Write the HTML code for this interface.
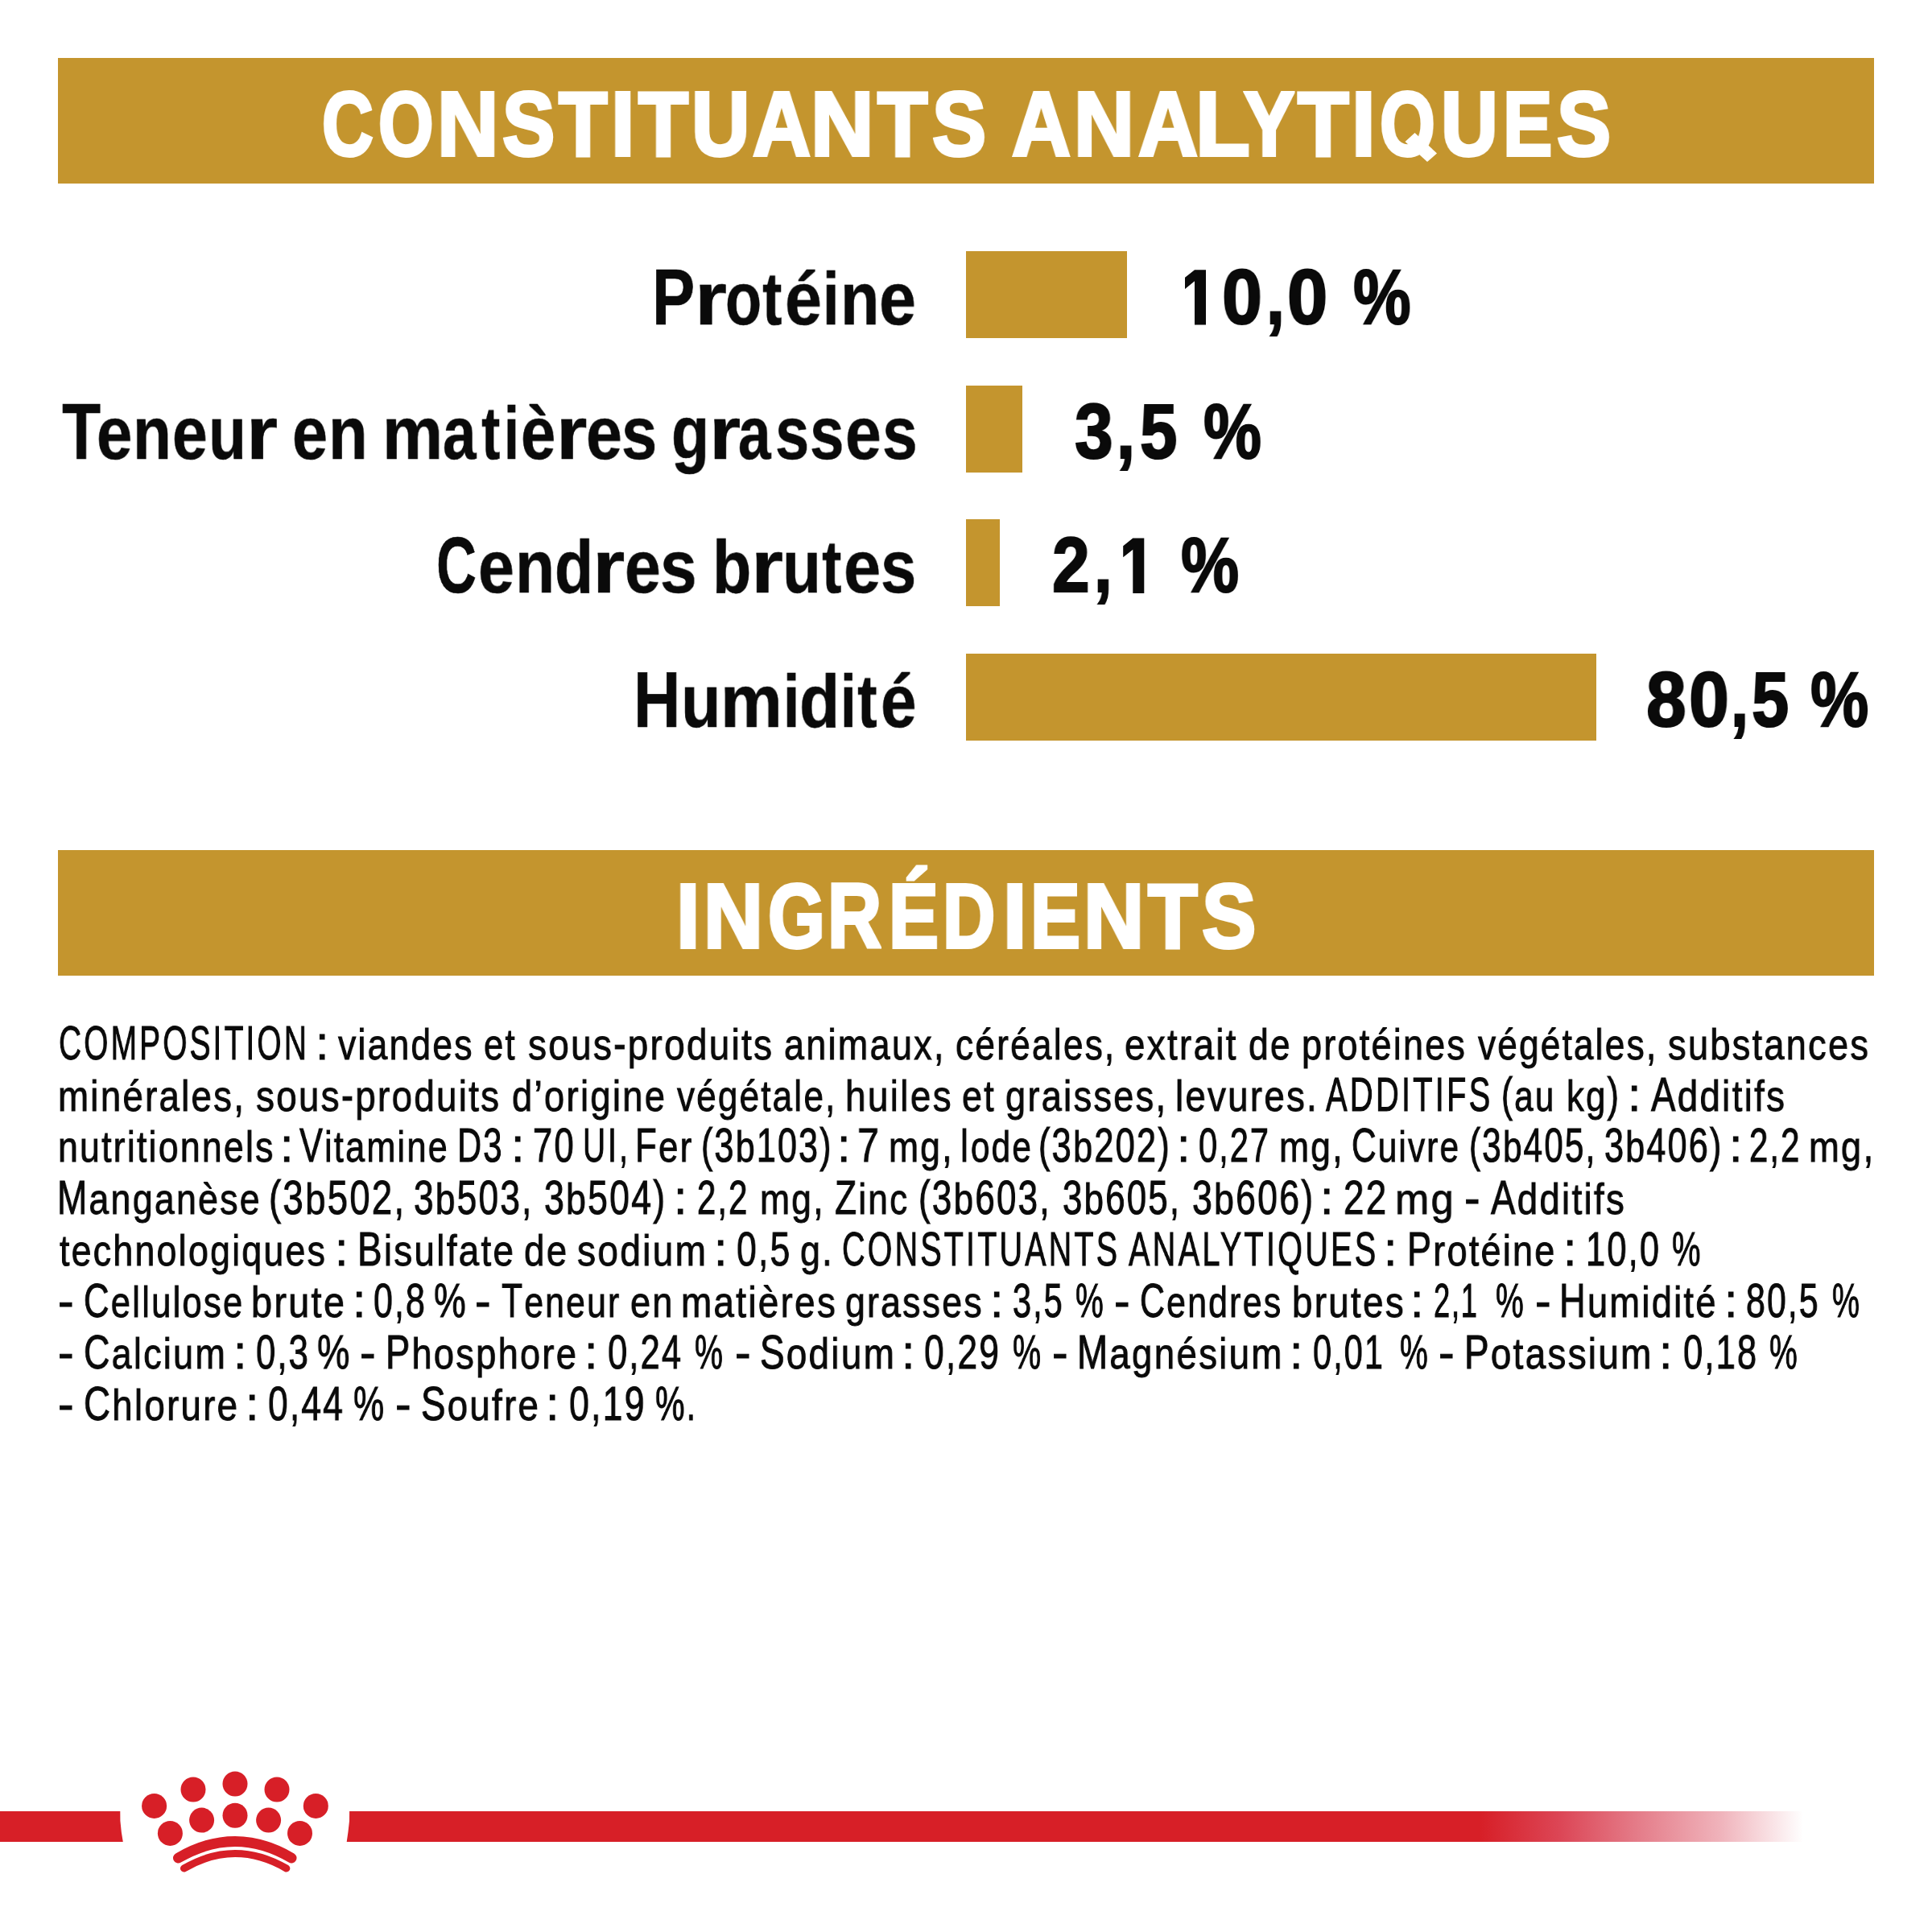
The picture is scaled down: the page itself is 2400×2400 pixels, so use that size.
<!DOCTYPE html>
<html><head><meta charset="utf-8">
<style>
html,body{margin:0;padding:0;background:#fff;}
body{width:2400px;height:2400px;position:relative;overflow:hidden;font-family:"Liberation Sans",sans-serif;}
.r{position:absolute;background:#C4952E;}
.t{position:absolute;white-space:nowrap;transform-origin:0 0;will-change:transform;font-family:"Liberation Sans",sans-serif;}
.x{display:inline-block;transform:scaleY(0.912);transform-origin:0 49.96px}
</style></head><body>
<div class="r" style="left:72px;top:72px;width:2256px;height:156px"></div>
<div class="r" style="left:72px;top:1056px;width:2256px;height:156px"></div>
<div class="r" style="left:1200px;top:312px;width:200px;height:108px"></div>
<div class="r" style="left:1200px;top:479px;width:70px;height:108px"></div>
<div class="r" style="left:1200px;top:645px;width:42px;height:108px"></div>
<div class="r" style="left:1200px;top:812px;width:783px;height:108px"></div>
<svg style="position:absolute;left:0;top:0" width="2400" height="2400" viewBox="0 0 2400 2400">
<defs>
<linearGradient id="fade" x1="431" y1="0" x2="2240" y2="0" gradientUnits="userSpaceOnUse">
<stop offset="0" stop-color="#D71F27"/>
<stop offset="0.778" stop-color="#D71F27"/>
<stop offset="0.833" stop-color="#DC4656"/>
<stop offset="0.884" stop-color="#E47A87"/>
<stop offset="0.944" stop-color="#F0B4BC"/>
<stop offset="1" stop-color="#FFFFFF"/>
</linearGradient>
</defs>
<path d="M0 2250 L149.3 2250 L149.4 2262 Q150.5 2276 152.8 2288 L0 2288 Z" fill="#D71F27"/>
<path d="M434.1 2250 L2240 2250 L2240 2288 L430.7 2288 Q432.6 2276 434 2262 Z" fill="url(#fade)"/>
<g fill="#D71F27">
<circle cx="292" cy="2216" r="15.5"/>
<circle cx="240" cy="2223" r="15.5"/>
<circle cx="344" cy="2223" r="15.5"/>
<circle cx="191.6" cy="2243.4" r="15.5"/>
<circle cx="392.3" cy="2243.4" r="15.5"/>
<circle cx="292" cy="2255.3" r="15.5"/>
<circle cx="250.6" cy="2261.1" r="15.5"/>
<circle cx="333.6" cy="2261.1" r="15.5"/>
<circle cx="211.4" cy="2277.4" r="15.5"/>
<circle cx="372.5" cy="2277.4" r="15.5"/>
</g>
<g fill="none" stroke="#D71F27" stroke-linecap="round">
<path d="M221.5 2308 Q292 2267 362 2308" stroke-width="13"/>
<path d="M228.5 2321 Q292 2284 355.8 2321" stroke-width="9"/>
</g>
<polygon fill="#FFFFFF" points="1745.5,176 1757.5,165 1785,190.5 1773,201"/>
<polygon fill="#0A0A0A" points="1498.0,335.2 1498.0,403.6 1484.0,403.6 1484.0,349.3 1472.0,358.9 1472.0,344.8 1484.0,335.2"/>
<polygon fill="#0A0A0A" points="1421.3,668.6 1421.3,737.0 1407.3,737.0 1407.3,682.7 1395.2,692.3 1395.2,678.2 1407.3,668.6"/>
</svg>
<div class="t" style="left:400.1px;top:97.3px;font-size:113.4px;line-height:113.4px;font-weight:700;color:#FFFFFF;-webkit-text-stroke:4px #FFFFFF;transform:scale(0.7769,1.0000)">C</div>
<div class="t" style="left:470.0px;top:97.3px;font-size:113.4px;line-height:113.4px;font-weight:700;color:#FFFFFF;-webkit-text-stroke:4px #FFFFFF;transform:scale(0.7768,1.0000)">O</div>
<div class="t" style="left:542.8px;top:97.3px;font-size:113.4px;line-height:113.4px;font-weight:700;color:#FFFFFF;-webkit-text-stroke:4px #FFFFFF;transform:scale(0.9314,1.0000)">N</div>
<div class="t" style="left:623.6px;top:97.3px;font-size:113.4px;line-height:113.4px;font-weight:700;color:#FFFFFF;-webkit-text-stroke:4px #FFFFFF;transform:scale(0.8625,1.0000)">S</div>
<div class="t" style="left:693.7px;top:97.3px;font-size:113.4px;line-height:113.4px;font-weight:700;color:#FFFFFF;-webkit-text-stroke:4px #FFFFFF;transform:scale(0.8746,1.0000)">T</div>
<div class="t" style="left:758.6px;top:97.3px;font-size:113.4px;line-height:113.4px;font-weight:700;color:#FFFFFF;-webkit-text-stroke:4px #FFFFFF;transform:scale(0.9350,1.0000)">I</div>
<div class="t" style="left:793.1px;top:97.3px;font-size:113.4px;line-height:113.4px;font-weight:700;color:#FFFFFF;-webkit-text-stroke:4px #FFFFFF;transform:scale(0.8958,1.0000)">T</div>
<div class="t" style="left:859.2px;top:97.3px;font-size:113.4px;line-height:113.4px;font-weight:700;color:#FFFFFF;-webkit-text-stroke:4px #FFFFFF;transform:scale(0.8847,1.0000)">U</div>
<div class="t" style="left:935.0px;top:97.3px;font-size:113.4px;line-height:113.4px;font-weight:700;color:#FFFFFF;-webkit-text-stroke:4px #FFFFFF;transform:scale(0.8780,1.0000)">A</div>
<div class="t" style="left:1007.3px;top:97.3px;font-size:113.4px;line-height:113.4px;font-weight:700;color:#FFFFFF;-webkit-text-stroke:4px #FFFFFF;transform:scale(0.9571,1.0000)">N</div>
<div class="t" style="left:1089.9px;top:97.3px;font-size:113.4px;line-height:113.4px;font-weight:700;color:#FFFFFF;-webkit-text-stroke:4px #FFFFFF;transform:scale(0.9014,1.0000)">T</div>
<div class="t" style="left:1158.1px;top:97.3px;font-size:113.4px;line-height:113.4px;font-weight:700;color:#FFFFFF;-webkit-text-stroke:4px #FFFFFF;transform:scale(0.8861,1.0000)">S</div>
<div class="t" style="left:1257.0px;top:97.3px;font-size:113.4px;line-height:113.4px;font-weight:700;color:#FFFFFF;-webkit-text-stroke:4px #FFFFFF;transform:scale(0.8902,1.0000)">A</div>
<div class="t" style="left:1333.5px;top:97.3px;font-size:113.4px;line-height:113.4px;font-weight:700;color:#FFFFFF;-webkit-text-stroke:4px #FFFFFF;transform:scale(0.9143,1.0000)">N</div>
<div class="t" style="left:1414.0px;top:97.3px;font-size:113.4px;line-height:113.4px;font-weight:700;color:#FFFFFF;-webkit-text-stroke:4px #FFFFFF;transform:scale(0.9024,1.0000)">A</div>
<div class="t" style="left:1485.1px;top:97.3px;font-size:113.4px;line-height:113.4px;font-weight:700;color:#FFFFFF;-webkit-text-stroke:4px #FFFFFF;transform:scale(0.9774,1.0000)">L</div>
<div class="t" style="left:1544.6px;top:97.3px;font-size:113.4px;line-height:113.4px;font-weight:700;color:#FFFFFF;-webkit-text-stroke:4px #FFFFFF;transform:scale(0.8359,1.0000)">Y</div>
<div class="t" style="left:1611.5px;top:97.3px;font-size:113.4px;line-height:113.4px;font-weight:700;color:#FFFFFF;-webkit-text-stroke:4px #FFFFFF;transform:scale(0.9183,1.0000)">T</div>
<div class="t" style="left:1679.4px;top:97.3px;font-size:113.4px;line-height:113.4px;font-weight:700;color:#FFFFFF;-webkit-text-stroke:4px #FFFFFF;transform:scale(0.9400,1.0000)">I</div>
<div class="t" style="left:1713.7px;top:97.3px;font-size:113.4px;line-height:113.4px;font-weight:700;color:#FFFFFF;-webkit-text-stroke:4px #FFFFFF;transform:scale(0.7805,1.0000)">O</div>
<div class="t" style="left:1789.5px;top:97.3px;font-size:113.4px;line-height:113.4px;font-weight:700;color:#FFFFFF;-webkit-text-stroke:4px #FFFFFF;transform:scale(0.8639,1.0000)">U</div>
<div class="t" style="left:1866.6px;top:97.3px;font-size:113.4px;line-height:113.4px;font-weight:700;color:#FFFFFF;-webkit-text-stroke:4px #FFFFFF;transform:scale(0.8104,1.0000)">E</div>
<div class="t" style="left:1934.1px;top:97.3px;font-size:113.4px;line-height:113.4px;font-weight:700;color:#FFFFFF;-webkit-text-stroke:4px #FFFFFF;transform:scale(0.8861,1.0000)">S</div>
<div class="t" style="left:839.9px;top:1081.3px;font-size:113.4px;line-height:113.4px;font-weight:700;color:#FFFFFF;-webkit-text-stroke:4px #FFFFFF;transform:scale(0.9350,1.0000)">I</div>
<div class="t" style="left:874.3px;top:1081.3px;font-size:113.4px;line-height:113.4px;font-weight:700;color:#FFFFFF;-webkit-text-stroke:4px #FFFFFF;transform:scale(0.9014,1.0000)">N</div>
<div class="t" style="left:953.9px;top:1081.3px;font-size:113.4px;line-height:113.4px;font-weight:700;color:#FFFFFF;-webkit-text-stroke:4px #FFFFFF;transform:scale(0.8025,1.0000)">G</div>
<div class="t" style="left:1028.1px;top:1081.3px;font-size:113.4px;line-height:113.4px;font-weight:700;color:#FFFFFF;-webkit-text-stroke:4px #FFFFFF;transform:scale(0.8182,1.0000)">R</div>
<div class="t" style="left:1103.6px;top:1081.3px;font-size:113.4px;line-height:113.4px;font-weight:700;color:#FFFFFF;-webkit-text-stroke:4px #FFFFFF;transform:scale(0.8179,1.0000)">É</div>
<div class="t" style="left:1170.9px;top:1081.3px;font-size:113.4px;line-height:113.4px;font-weight:700;color:#FFFFFF;-webkit-text-stroke:4px #FFFFFF;transform:scale(0.7961,1.0000)">D</div>
<div class="t" style="left:1245.8px;top:1081.3px;font-size:113.4px;line-height:113.4px;font-weight:700;color:#FFFFFF;-webkit-text-stroke:4px #FFFFFF;transform:scale(0.9300,1.0000)">I</div>
<div class="t" style="left:1279.7px;top:1081.3px;font-size:113.4px;line-height:113.4px;font-weight:700;color:#FFFFFF;-webkit-text-stroke:4px #FFFFFF;transform:scale(0.8179,1.0000)">E</div>
<div class="t" style="left:1346.3px;top:1081.3px;font-size:113.4px;line-height:113.4px;font-weight:700;color:#FFFFFF;-webkit-text-stroke:4px #FFFFFF;transform:scale(0.9171,1.0000)">N</div>
<div class="t" style="left:1426.2px;top:1081.3px;font-size:113.4px;line-height:113.4px;font-weight:700;color:#FFFFFF;-webkit-text-stroke:4px #FFFFFF;transform:scale(0.8901,1.0000)">T</div>
<div class="t" style="left:1492.8px;top:1081.3px;font-size:113.4px;line-height:113.4px;font-weight:700;color:#FFFFFF;-webkit-text-stroke:4px #FFFFFF;transform:scale(0.8903,1.0000)">S</div>
<div class="t" style="left:810.4px;top:319.9px;font-size:98.5px;line-height:98.5px;font-weight:700;color:#0A0A0A;-webkit-text-stroke:0.6px #0A0A0A;transform:scale(0.8105,1.0000)">P</div>
<div class="t" style="left:863.1px;top:319.9px;font-size:98.5px;line-height:98.5px;font-weight:700;color:#0A0A0A;-webkit-text-stroke:0.6px #0A0A0A;transform:scale(1.0387,0.9460);transform-origin:0 83.40px">r</div>
<div class="t" style="left:900.8px;top:319.9px;font-size:98.5px;line-height:98.5px;font-weight:700;color:#0A0A0A;-webkit-text-stroke:0.6px #0A0A0A;transform:scale(0.7500,0.9460);transform-origin:0 83.40px">o</div>
<div class="t" style="left:947.3px;top:319.9px;font-size:98.5px;line-height:98.5px;font-weight:700;color:#0A0A0A;-webkit-text-stroke:0.6px #0A0A0A;transform:scale(0.7419,0.9460);transform-origin:0 83.40px">t</div>
<div class="t" style="left:974.5px;top:319.9px;font-size:98.5px;line-height:98.5px;font-weight:700;color:#0A0A0A;-webkit-text-stroke:0.6px #0A0A0A;transform:scale(0.8367,0.9460);transform-origin:0 83.40px">é</div>
<div class="t" style="left:1021.9px;top:319.9px;font-size:98.5px;line-height:98.5px;font-weight:700;color:#0A0A0A;-webkit-text-stroke:0.6px #0A0A0A;transform:scale(0.7467,0.9460);transform-origin:0 83.40px">i</div>
<div class="t" style="left:1043.6px;top:319.9px;font-size:98.5px;line-height:98.5px;font-weight:700;color:#0A0A0A;-webkit-text-stroke:0.6px #0A0A0A;transform:scale(0.8042,0.9460);transform-origin:0 83.40px">n</div>
<div class="t" style="left:1091.9px;top:319.9px;font-size:98.5px;line-height:98.5px;font-weight:700;color:#0A0A0A;-webkit-text-stroke:0.6px #0A0A0A;transform:scale(0.8367,0.9460);transform-origin:0 83.40px">e</div>
<div class="t" style="left:77.2px;top:486.7px;font-size:98.5px;line-height:98.5px;font-weight:700;color:#0A0A0A;-webkit-text-stroke:0.6px #0A0A0A;transform:scale(0.8000,1.0000)">T</div>
<div class="t" style="left:120.0px;top:486.7px;font-size:98.5px;line-height:98.5px;font-weight:700;color:#0A0A0A;-webkit-text-stroke:0.6px #0A0A0A;transform:scale(0.8102,0.9460);transform-origin:0 83.40px">e</div>
<div class="t" style="left:165.2px;top:486.7px;font-size:98.5px;line-height:98.5px;font-weight:700;color:#0A0A0A;-webkit-text-stroke:0.6px #0A0A0A;transform:scale(0.7937,0.9460);transform-origin:0 83.40px">n</div>
<div class="t" style="left:214.1px;top:486.7px;font-size:98.5px;line-height:98.5px;font-weight:700;color:#0A0A0A;-webkit-text-stroke:0.6px #0A0A0A;transform:scale(0.7980,0.9460);transform-origin:0 83.40px">e</div>
<div class="t" style="left:259.3px;top:486.7px;font-size:98.5px;line-height:98.5px;font-weight:700;color:#0A0A0A;-webkit-text-stroke:0.6px #0A0A0A;transform:scale(0.7771,0.9460);transform-origin:0 83.40px">u</div>
<div class="t" style="left:306.4px;top:486.7px;font-size:98.5px;line-height:98.5px;font-weight:700;color:#0A0A0A;-webkit-text-stroke:0.6px #0A0A0A;transform:scale(1.0161,0.9460);transform-origin:0 83.40px">r</div>
<div class="t" style="left:363.0px;top:486.7px;font-size:98.5px;line-height:98.5px;font-weight:700;color:#0A0A0A;-webkit-text-stroke:0.6px #0A0A0A;transform:scale(0.8020,0.9460);transform-origin:0 83.40px">e</div>
<div class="t" style="left:407.6px;top:486.7px;font-size:98.5px;line-height:98.5px;font-weight:700;color:#0A0A0A;-webkit-text-stroke:0.6px #0A0A0A;transform:scale(0.8083,0.9460);transform-origin:0 83.40px">n</div>
<div class="t" style="left:475.4px;top:486.7px;font-size:98.5px;line-height:98.5px;font-weight:700;color:#0A0A0A;-webkit-text-stroke:0.6px #0A0A0A;transform:scale(0.8579,0.9460);transform-origin:0 83.40px">m</div>
<div class="t" style="left:549.9px;top:486.7px;font-size:98.5px;line-height:98.5px;font-weight:700;color:#0A0A0A;-webkit-text-stroke:0.6px #0A0A0A;transform:scale(0.7566,0.9460);transform-origin:0 83.40px">a</div>
<div class="t" style="left:598.1px;top:486.7px;font-size:98.5px;line-height:98.5px;font-weight:700;color:#0A0A0A;-webkit-text-stroke:0.6px #0A0A0A;transform:scale(0.7097,0.9460);transform-origin:0 83.40px">t</div>
<div class="t" style="left:625.8px;top:486.7px;font-size:98.5px;line-height:98.5px;font-weight:700;color:#0A0A0A;-webkit-text-stroke:0.6px #0A0A0A;transform:scale(0.6867,0.9460);transform-origin:0 83.40px">i</div>
<div class="t" style="left:646.9px;top:486.7px;font-size:98.5px;line-height:98.5px;font-weight:700;color:#0A0A0A;-webkit-text-stroke:0.6px #0A0A0A;transform:scale(0.7898,0.9460);transform-origin:0 83.40px">è</div>
<div class="t" style="left:691.1px;top:486.7px;font-size:98.5px;line-height:98.5px;font-weight:700;color:#0A0A0A;-webkit-text-stroke:0.6px #0A0A0A;transform:scale(1.0032,0.9460);transform-origin:0 83.40px">r</div>
<div class="t" style="left:728.3px;top:486.7px;font-size:98.5px;line-height:98.5px;font-weight:700;color:#0A0A0A;-webkit-text-stroke:0.6px #0A0A0A;transform:scale(0.8184,0.9460);transform-origin:0 83.40px">e</div>
<div class="t" style="left:772.4px;top:486.7px;font-size:98.5px;line-height:98.5px;font-weight:700;color:#0A0A0A;-webkit-text-stroke:0.6px #0A0A0A;transform:scale(0.8083,0.9460);transform-origin:0 83.40px">s</div>
<div class="t" style="left:834.2px;top:486.7px;font-size:98.5px;line-height:98.5px;font-weight:700;color:#0A0A0A;-webkit-text-stroke:0.6px #0A0A0A;transform:scale(0.7820,0.9460);transform-origin:0 83.40px">g</div>
<div class="t" style="left:880.5px;top:486.7px;font-size:98.5px;line-height:98.5px;font-weight:700;color:#0A0A0A;-webkit-text-stroke:0.6px #0A0A0A;transform:scale(1.0226,0.9460);transform-origin:0 83.40px">r</div>
<div class="t" style="left:917.0px;top:486.7px;font-size:98.5px;line-height:98.5px;font-weight:700;color:#0A0A0A;-webkit-text-stroke:0.6px #0A0A0A;transform:scale(0.7396,0.9460);transform-origin:0 83.40px">a</div>
<div class="t" style="left:962.7px;top:486.7px;font-size:98.5px;line-height:98.5px;font-weight:700;color:#0A0A0A;-webkit-text-stroke:0.6px #0A0A0A;transform:scale(0.7708,0.9460);transform-origin:0 83.40px">s</div>
<div class="t" style="left:1005.5px;top:486.7px;font-size:98.5px;line-height:98.5px;font-weight:700;color:#0A0A0A;-webkit-text-stroke:0.6px #0A0A0A;transform:scale(0.7750,0.9460);transform-origin:0 83.40px">s</div>
<div class="t" style="left:1050.1px;top:486.7px;font-size:98.5px;line-height:98.5px;font-weight:700;color:#0A0A0A;-webkit-text-stroke:0.6px #0A0A0A;transform:scale(0.8163,0.9460);transform-origin:0 83.40px">e</div>
<div class="t" style="left:1095.6px;top:486.7px;font-size:98.5px;line-height:98.5px;font-weight:700;color:#0A0A0A;-webkit-text-stroke:0.6px #0A0A0A;transform:scale(0.7979,0.9460);transform-origin:0 83.40px">s</div>
<div class="t" style="left:542.4px;top:653.3px;font-size:98.5px;line-height:98.5px;font-weight:700;color:#0A0A0A;-webkit-text-stroke:0.6px #0A0A0A;transform:scale(0.7015,1.0000)">C</div>
<div class="t" style="left:593.9px;top:653.3px;font-size:98.5px;line-height:98.5px;font-weight:700;color:#0A0A0A;-webkit-text-stroke:0.6px #0A0A0A;transform:scale(0.8184,0.9460);transform-origin:0 83.40px">e</div>
<div class="t" style="left:639.9px;top:653.3px;font-size:98.5px;line-height:98.5px;font-weight:700;color:#0A0A0A;-webkit-text-stroke:0.6px #0A0A0A;transform:scale(0.8167,0.9460);transform-origin:0 83.40px">n</div>
<div class="t" style="left:689.2px;top:653.3px;font-size:98.5px;line-height:98.5px;font-weight:700;color:#0A0A0A;-webkit-text-stroke:0.6px #0A0A0A;transform:scale(0.8000,0.9460);transform-origin:0 83.40px">d</div>
<div class="t" style="left:736.4px;top:653.3px;font-size:98.5px;line-height:98.5px;font-weight:700;color:#0A0A0A;-webkit-text-stroke:0.6px #0A0A0A;transform:scale(1.0516,0.9460);transform-origin:0 83.40px">r</div>
<div class="t" style="left:775.6px;top:653.3px;font-size:98.5px;line-height:98.5px;font-weight:700;color:#0A0A0A;-webkit-text-stroke:0.6px #0A0A0A;transform:scale(0.8163,0.9460);transform-origin:0 83.40px">e</div>
<div class="t" style="left:820.3px;top:653.3px;font-size:98.5px;line-height:98.5px;font-weight:700;color:#0A0A0A;-webkit-text-stroke:0.6px #0A0A0A;transform:scale(0.8333,0.9460);transform-origin:0 83.40px">s</div>
<div class="t" style="left:885.0px;top:653.3px;font-size:98.5px;line-height:98.5px;font-weight:700;color:#0A0A0A;-webkit-text-stroke:0.6px #0A0A0A;transform:scale(0.8020,0.9460);transform-origin:0 83.40px">b</div>
<div class="t" style="left:932.9px;top:653.3px;font-size:98.5px;line-height:98.5px;font-weight:700;color:#0A0A0A;-webkit-text-stroke:0.6px #0A0A0A;transform:scale(1.0419,0.9460);transform-origin:0 83.40px">r</div>
<div class="t" style="left:971.8px;top:653.3px;font-size:98.5px;line-height:98.5px;font-weight:700;color:#0A0A0A;-webkit-text-stroke:0.6px #0A0A0A;transform:scale(0.7917,0.9460);transform-origin:0 83.40px">u</div>
<div class="t" style="left:1020.8px;top:653.3px;font-size:98.5px;line-height:98.5px;font-weight:700;color:#0A0A0A;-webkit-text-stroke:0.6px #0A0A0A;transform:scale(0.7419,0.9460);transform-origin:0 83.40px">t</div>
<div class="t" style="left:1047.7px;top:653.3px;font-size:98.5px;line-height:98.5px;font-weight:700;color:#0A0A0A;-webkit-text-stroke:0.6px #0A0A0A;transform:scale(0.8408,0.9460);transform-origin:0 83.40px">e</div>
<div class="t" style="left:1094.4px;top:653.3px;font-size:98.5px;line-height:98.5px;font-weight:700;color:#0A0A0A;-webkit-text-stroke:0.6px #0A0A0A;transform:scale(0.8083,0.9460);transform-origin:0 83.40px">s</div>
<div class="t" style="left:787.3px;top:819.8px;font-size:98.5px;line-height:98.5px;font-weight:700;color:#0A0A0A;-webkit-text-stroke:0.6px #0A0A0A;transform:scale(0.8203,1.0000)">H</div>
<div class="t" style="left:845.8px;top:819.8px;font-size:98.5px;line-height:98.5px;font-weight:700;color:#0A0A0A;-webkit-text-stroke:0.6px #0A0A0A;transform:scale(0.8208,0.9460);transform-origin:0 83.40px">u</div>
<div class="t" style="left:894.9px;top:819.8px;font-size:98.5px;line-height:98.5px;font-weight:700;color:#0A0A0A;-webkit-text-stroke:0.6px #0A0A0A;transform:scale(0.8763,0.9460);transform-origin:0 83.40px">m</div>
<div class="t" style="left:972.5px;top:819.8px;font-size:98.5px;line-height:98.5px;font-weight:700;color:#0A0A0A;-webkit-text-stroke:0.6px #0A0A0A;transform:scale(0.7400,0.9460);transform-origin:0 83.40px">i</div>
<div class="t" style="left:992.7px;top:819.8px;font-size:98.5px;line-height:98.5px;font-weight:700;color:#0A0A0A;-webkit-text-stroke:0.6px #0A0A0A;transform:scale(0.8300,0.9460);transform-origin:0 83.40px">d</div>
<div class="t" style="left:1043.9px;top:819.8px;font-size:98.5px;line-height:98.5px;font-weight:700;color:#0A0A0A;-webkit-text-stroke:0.6px #0A0A0A;transform:scale(0.7200,0.9460);transform-origin:0 83.40px">i</div>
<div class="t" style="left:1064.9px;top:819.8px;font-size:98.5px;line-height:98.5px;font-weight:700;color:#0A0A0A;-webkit-text-stroke:0.6px #0A0A0A;transform:scale(0.7516,0.9460);transform-origin:0 83.40px">t</div>
<div class="t" style="left:1093.6px;top:819.8px;font-size:98.5px;line-height:98.5px;font-weight:700;color:#0A0A0A;-webkit-text-stroke:0.6px #0A0A0A;transform:scale(0.8122,0.9460);transform-origin:0 83.40px">é</div>
<div class="t" style="left:1518.4px;top:321.0px;font-size:96.2px;line-height:96.2px;font-weight:700;color:#0A0A0A;-webkit-text-stroke:2.2px #0A0A0A;transform:scale(0.9333,1.0000)">0</div>
<div class="t" style="left:1573.0px;top:321.0px;font-size:96.2px;line-height:96.2px;font-weight:700;color:#0A0A0A;-webkit-text-stroke:2.2px #0A0A0A;transform:scale(0.8500,1.0000)">,</div>
<div class="t" style="left:1599.2px;top:321.0px;font-size:96.2px;line-height:96.2px;font-weight:700;color:#0A0A0A;-webkit-text-stroke:2.2px #0A0A0A;transform:scale(0.9375,1.0000)">0</div>
<div class="t" style="left:1680.7px;top:321.0px;font-size:96.2px;line-height:96.2px;font-weight:700;color:#0A0A0A;-webkit-text-stroke:2.2px #0A0A0A;transform:scale(0.8373,1.0000)">%</div>
<div class="t" style="left:1334.9px;top:488.4px;font-size:96.2px;line-height:96.2px;font-weight:700;color:#0A0A0A;-webkit-text-stroke:2.2px #0A0A0A;transform:scale(0.8900,1.0000)">3</div>
<div class="t" style="left:1386.9px;top:488.4px;font-size:96.2px;line-height:96.2px;font-weight:700;color:#0A0A0A;-webkit-text-stroke:2.2px #0A0A0A;transform:scale(0.8625,1.0000)">,</div>
<div class="t" style="left:1416.3px;top:488.4px;font-size:96.2px;line-height:96.2px;font-weight:700;color:#0A0A0A;-webkit-text-stroke:2.2px #0A0A0A;transform:scale(0.8680,1.0000)">5</div>
<div class="t" style="left:1495.2px;top:488.4px;font-size:96.2px;line-height:96.2px;font-weight:700;color:#0A0A0A;-webkit-text-stroke:2.2px #0A0A0A;transform:scale(0.8410,1.0000)">%</div>
<div class="t" style="left:1306.6px;top:654.4px;font-size:96.2px;line-height:96.2px;font-weight:700;color:#0A0A0A;-webkit-text-stroke:2.2px #0A0A0A;transform:scale(0.8714,1.0000)">2</div>
<div class="t" style="left:1359.1px;top:654.4px;font-size:96.2px;line-height:96.2px;font-weight:700;color:#0A0A0A;-webkit-text-stroke:2.2px #0A0A0A;transform:scale(0.8438,1.0000)">,</div>
<div class="t" style="left:1467.3px;top:654.4px;font-size:96.2px;line-height:96.2px;font-weight:700;color:#0A0A0A;-webkit-text-stroke:2.2px #0A0A0A;transform:scale(0.8422,1.0000)">%</div>
<div class="t" style="left:2045.4px;top:821.4px;font-size:96.2px;line-height:96.2px;font-weight:700;color:#0A0A0A;-webkit-text-stroke:2.2px #0A0A0A;transform:scale(0.9280,1.0000)">8</div>
<div class="t" style="left:2098.4px;top:821.4px;font-size:96.2px;line-height:96.2px;font-weight:700;color:#0A0A0A;-webkit-text-stroke:2.2px #0A0A0A;transform:scale(0.9313,1.0000)">0</div>
<div class="t" style="left:2150.1px;top:821.4px;font-size:96.2px;line-height:96.2px;font-weight:700;color:#0A0A0A;-webkit-text-stroke:2.2px #0A0A0A;transform:scale(0.8250,1.0000)">,</div>
<div class="t" style="left:2175.6px;top:821.4px;font-size:96.2px;line-height:96.2px;font-weight:700;color:#0A0A0A;-webkit-text-stroke:2.2px #0A0A0A;transform:scale(0.8620,1.0000)">5</div>
<div class="t" style="left:2248.6px;top:821.4px;font-size:96.2px;line-height:96.2px;font-weight:700;color:#0A0A0A;-webkit-text-stroke:2.2px #0A0A0A;transform:scale(0.8446,1.0000)">%</div>
<div class="t" style="left:72.7px;top:1266.7px;font-size:59.0px;line-height:59.0px;font-weight:400;color:#0A0A0A;-webkit-text-stroke:1.0px #0A0A0A;letter-spacing:0.08em;transform:scale(0.6594,1.0000)">COMPOSITION</div>
<div class="t" style="left:391.5px;top:1266.7px;font-size:59.0px;line-height:59.0px;font-weight:400;color:#0A0A0A;-webkit-text-stroke:1.0px #0A0A0A;letter-spacing:0.05em">:</div>
<div class="t" style="left:420.0px;top:1266.7px;font-size:59.0px;line-height:59.0px;font-weight:400;color:#0A0A0A;-webkit-text-stroke:1.0px #0A0A0A;letter-spacing:0.05em;transform:scale(0.7534,1.0000)"><span class="x">viandes</span></div>
<div class="t" style="left:600.5px;top:1266.7px;font-size:59.0px;line-height:59.0px;font-weight:400;color:#0A0A0A;-webkit-text-stroke:1.0px #0A0A0A;letter-spacing:0.05em;transform:scale(0.7400,1.0000)"><span class="x">et</span></div>
<div class="t" style="left:656.2px;top:1266.7px;font-size:59.0px;line-height:59.0px;font-weight:400;color:#0A0A0A;-webkit-text-stroke:1.0px #0A0A0A;letter-spacing:0.05em;transform:scale(0.7778,1.0000)"><span class="x">sous</span>-<span class="x">produits</span></div>
<div class="t" style="left:973.5px;top:1266.7px;font-size:59.0px;line-height:59.0px;font-weight:400;color:#0A0A0A;-webkit-text-stroke:1.0px #0A0A0A;letter-spacing:0.05em;transform:scale(0.7628,1.0000)"><span class="x">animaux</span>,</div>
<div class="t" style="left:1186.5px;top:1266.7px;font-size:59.0px;line-height:59.0px;font-weight:400;color:#0A0A0A;-webkit-text-stroke:1.0px #0A0A0A;letter-spacing:0.05em;transform:scale(0.7500,1.0000)"><span class="x">céréales</span>,</div>
<div class="t" style="left:1397.4px;top:1266.7px;font-size:59.0px;line-height:59.0px;font-weight:400;color:#0A0A0A;-webkit-text-stroke:1.0px #0A0A0A;letter-spacing:0.05em;transform:scale(0.7761,1.0000)"><span class="x">extrait</span></div>
<div class="t" style="left:1551.2px;top:1266.7px;font-size:59.0px;line-height:59.0px;font-weight:400;color:#0A0A0A;-webkit-text-stroke:1.0px #0A0A0A;letter-spacing:0.05em;transform:scale(0.7516,1.0000)"><span class="x">de</span></div>
<div class="t" style="left:1617.1px;top:1266.7px;font-size:59.0px;line-height:59.0px;font-weight:400;color:#0A0A0A;-webkit-text-stroke:1.0px #0A0A0A;letter-spacing:0.05em;transform:scale(0.7618,1.0000)"><span class="x">protéines</span></div>
<div class="t" style="left:1836.0px;top:1266.7px;font-size:59.0px;line-height:59.0px;font-weight:400;color:#0A0A0A;-webkit-text-stroke:1.0px #0A0A0A;letter-spacing:0.05em;transform:scale(0.7481,1.0000)"><span class="x">végétales</span>,</div>
<div class="t" style="left:2071.5px;top:1266.7px;font-size:59.0px;line-height:59.0px;font-weight:400;color:#0A0A0A;-webkit-text-stroke:1.0px #0A0A0A;letter-spacing:0.05em;transform:scale(0.7661,1.0000)"><span class="x">substances</span></div>
<div class="t" style="left:71.7px;top:1330.5px;font-size:59.0px;line-height:59.0px;font-weight:400;color:#0A0A0A;-webkit-text-stroke:1.0px #0A0A0A;letter-spacing:0.05em;transform:scale(0.7732,1.0000)"><span class="x">minérales</span>,</div>
<div class="t" style="left:318.2px;top:1330.5px;font-size:59.0px;line-height:59.0px;font-weight:400;color:#0A0A0A;-webkit-text-stroke:1.0px #0A0A0A;letter-spacing:0.05em;transform:scale(0.7752,1.0000)"><span class="x">sous</span>-<span class="x">produits</span></div>
<div class="t" style="left:636.0px;top:1330.5px;font-size:59.0px;line-height:59.0px;font-weight:400;color:#0A0A0A;-webkit-text-stroke:1.0px #0A0A0A;letter-spacing:0.05em;transform:scale(0.7707,1.0000)"><span class="x">d’origine</span></div>
<div class="t" style="left:841.0px;top:1330.5px;font-size:59.0px;line-height:59.0px;font-weight:400;color:#0A0A0A;-webkit-text-stroke:1.0px #0A0A0A;letter-spacing:0.05em;transform:scale(0.7461,1.0000)"><span class="x">végétale</span>,</div>
<div class="t" style="left:1049.9px;top:1330.5px;font-size:59.0px;line-height:59.0px;font-weight:400;color:#0A0A0A;-webkit-text-stroke:1.0px #0A0A0A;letter-spacing:0.05em;transform:scale(0.7791,1.0000)"><span class="x">huiles</span></div>
<div class="t" style="left:1194.5px;top:1330.5px;font-size:59.0px;line-height:59.0px;font-weight:400;color:#0A0A0A;-webkit-text-stroke:1.0px #0A0A0A;letter-spacing:0.05em;transform:scale(0.7600,1.0000)"><span class="x">et</span></div>
<div class="t" style="left:1248.5px;top:1330.5px;font-size:59.0px;line-height:59.0px;font-weight:400;color:#0A0A0A;-webkit-text-stroke:1.0px #0A0A0A;letter-spacing:0.05em;transform:scale(0.7668,1.0000)"><span class="x">graisses</span>,</div>
<div class="t" style="left:1460.3px;top:1330.5px;font-size:59.0px;line-height:59.0px;font-weight:400;color:#0A0A0A;-webkit-text-stroke:1.0px #0A0A0A;letter-spacing:0.05em;transform:scale(0.7735,1.0000)"><span class="x">levures</span>.</div>
<div class="t" style="left:1647.0px;top:1330.5px;font-size:59.0px;line-height:59.0px;font-weight:400;color:#0A0A0A;-webkit-text-stroke:1.0px #0A0A0A;letter-spacing:0.08em;transform:scale(0.6767,1.0000)">ADDITIFS</div>
<div class="t" style="left:1864.8px;top:1330.5px;font-size:59.0px;line-height:59.0px;font-weight:400;color:#0A0A0A;-webkit-text-stroke:1.0px #0A0A0A;letter-spacing:0.05em;transform:scale(0.7176,1.0000)">(<span class="x">au</span></div>
<div class="t" style="left:1945.8px;top:1330.5px;font-size:59.0px;line-height:59.0px;font-weight:400;color:#0A0A0A;-webkit-text-stroke:1.0px #0A0A0A;letter-spacing:0.05em;transform:scale(0.7390,1.0000)"><span class="x">kg</span>)</div>
<div class="t" style="left:2021.8px;top:1330.5px;font-size:59.0px;line-height:59.0px;font-weight:400;color:#0A0A0A;-webkit-text-stroke:1.0px #0A0A0A;letter-spacing:0.05em">:</div>
<div class="t" style="left:2050.6px;top:1330.5px;font-size:59.0px;line-height:59.0px;font-weight:400;color:#0A0A0A;-webkit-text-stroke:1.0px #0A0A0A;letter-spacing:0.05em;transform:scale(0.7746,1.0000)">A<span class="x">dditifs</span></div>
<div class="t" style="left:71.7px;top:1394.3px;font-size:59.0px;line-height:59.0px;font-weight:400;color:#0A0A0A;-webkit-text-stroke:1.0px #0A0A0A;letter-spacing:0.05em;transform:scale(0.7564,1.0000)"><span class="x">nutritionnels</span></div>
<div class="t" style="left:348.2px;top:1394.3px;font-size:59.0px;line-height:59.0px;font-weight:400;color:#0A0A0A;-webkit-text-stroke:1.0px #0A0A0A;letter-spacing:0.05em">:</div>
<div class="t" style="left:372.0px;top:1394.3px;font-size:59.0px;line-height:59.0px;font-weight:400;color:#0A0A0A;-webkit-text-stroke:1.0px #0A0A0A;letter-spacing:0.05em;transform:scale(0.7339,1.0000)">V<span class="x">itamine</span></div>
<div class="t" style="left:568.2px;top:1394.3px;font-size:59.0px;line-height:59.0px;font-weight:400;color:#0A0A0A;-webkit-text-stroke:1.0px #0A0A0A;letter-spacing:0.05em;transform:scale(0.7083,1.0000)">D3</div>
<div class="t" style="left:635.0px;top:1394.3px;font-size:59.0px;line-height:59.0px;font-weight:400;color:#0A0A0A;-webkit-text-stroke:1.0px #0A0A0A;letter-spacing:0.05em">:</div>
<div class="t" style="left:661.5px;top:1394.3px;font-size:59.0px;line-height:59.0px;font-weight:400;color:#0A0A0A;-webkit-text-stroke:1.0px #0A0A0A;letter-spacing:0.05em;transform:scale(0.7385,1.0000)">70</div>
<div class="t" style="left:724.4px;top:1394.3px;font-size:59.0px;line-height:59.0px;font-weight:400;color:#0A0A0A;-webkit-text-stroke:1.0px #0A0A0A;letter-spacing:0.08em;transform:scale(0.6579,1.0000)">UI,</div>
<div class="t" style="left:789.0px;top:1394.3px;font-size:59.0px;line-height:59.0px;font-weight:400;color:#0A0A0A;-webkit-text-stroke:1.0px #0A0A0A;letter-spacing:0.05em;transform:scale(0.7444,1.0000)">F<span class="x">er</span></div>
<div class="t" style="left:870.8px;top:1394.3px;font-size:59.0px;line-height:59.0px;font-weight:400;color:#0A0A0A;-webkit-text-stroke:1.0px #0A0A0A;letter-spacing:0.05em;transform:scale(0.7302,1.0000)">(3<span class="x">b</span>103)</div>
<div class="t" style="left:1039.5px;top:1394.3px;font-size:59.0px;line-height:59.0px;font-weight:400;color:#0A0A0A;-webkit-text-stroke:1.0px #0A0A0A;letter-spacing:0.05em">:</div>
<div class="t" style="left:1065.4px;top:1394.3px;font-size:59.0px;line-height:59.0px;font-weight:400;color:#0A0A0A;-webkit-text-stroke:1.0px #0A0A0A;letter-spacing:0.05em;transform:scale(0.8214,1.0000)">7</div>
<div class="t" style="left:1103.7px;top:1394.3px;font-size:59.0px;line-height:59.0px;font-weight:400;color:#0A0A0A;-webkit-text-stroke:1.0px #0A0A0A;letter-spacing:0.05em;transform:scale(0.7526,1.0000)"><span class="x">mg</span>,</div>
<div class="t" style="left:1191.9px;top:1394.3px;font-size:59.0px;line-height:59.0px;font-weight:400;color:#0A0A0A;-webkit-text-stroke:1.0px #0A0A0A;letter-spacing:0.05em;transform:scale(0.7198,1.0000)">I<span class="x">ode</span></div>
<div class="t" style="left:1289.6px;top:1394.3px;font-size:59.0px;line-height:59.0px;font-weight:400;color:#0A0A0A;-webkit-text-stroke:1.0px #0A0A0A;letter-spacing:0.05em;transform:scale(0.7358,1.0000)">(3<span class="x">b</span>202)</div>
<div class="t" style="left:1461.8px;top:1394.3px;font-size:59.0px;line-height:59.0px;font-weight:400;color:#0A0A0A;-webkit-text-stroke:1.0px #0A0A0A;letter-spacing:0.05em">:</div>
<div class="t" style="left:1489.2px;top:1394.3px;font-size:59.0px;line-height:59.0px;font-weight:400;color:#0A0A0A;-webkit-text-stroke:1.0px #0A0A0A;letter-spacing:0.05em;transform:scale(0.7042,1.0000)">0,27</div>
<div class="t" style="left:1589.2px;top:1394.3px;font-size:59.0px;line-height:59.0px;font-weight:400;color:#0A0A0A;-webkit-text-stroke:1.0px #0A0A0A;letter-spacing:0.05em;transform:scale(0.7526,1.0000)"><span class="x">mg</span>,</div>
<div class="t" style="left:1678.6px;top:1394.3px;font-size:59.0px;line-height:59.0px;font-weight:400;color:#0A0A0A;-webkit-text-stroke:1.0px #0A0A0A;letter-spacing:0.05em;transform:scale(0.7182,1.0000)">C<span class="x">uivre</span></div>
<div class="t" style="left:1824.8px;top:1394.3px;font-size:59.0px;line-height:59.0px;font-weight:400;color:#0A0A0A;-webkit-text-stroke:1.0px #0A0A0A;letter-spacing:0.05em;transform:scale(0.7171,1.0000)">(3<span class="x">b</span>405,</div>
<div class="t" style="left:1993.2px;top:1394.3px;font-size:59.0px;line-height:59.0px;font-weight:400;color:#0A0A0A;-webkit-text-stroke:1.0px #0A0A0A;letter-spacing:0.05em;transform:scale(0.7321,1.0000)">3<span class="x">b</span>406)</div>
<div class="t" style="left:2147.5px;top:1394.3px;font-size:59.0px;line-height:59.0px;font-weight:400;color:#0A0A0A;-webkit-text-stroke:1.0px #0A0A0A;letter-spacing:0.05em">:</div>
<div class="t" style="left:2173.4px;top:1394.3px;font-size:59.0px;line-height:59.0px;font-weight:400;color:#0A0A0A;-webkit-text-stroke:1.0px #0A0A0A;letter-spacing:0.05em;transform:scale(0.7108,1.0000)">2,2</div>
<div class="t" style="left:2246.7px;top:1394.3px;font-size:59.0px;line-height:59.0px;font-weight:400;color:#0A0A0A;-webkit-text-stroke:1.0px #0A0A0A;letter-spacing:0.05em;transform:scale(0.7680,1.0000)"><span class="x">mg</span>,</div>
<div class="t" style="left:71.0px;top:1458.5px;font-size:59.0px;line-height:59.0px;font-weight:400;color:#0A0A0A;-webkit-text-stroke:1.0px #0A0A0A;letter-spacing:0.05em;transform:scale(0.7577,1.0000)">M<span class="x">anganèse</span></div>
<div class="t" style="left:333.7px;top:1458.5px;font-size:59.0px;line-height:59.0px;font-weight:400;color:#0A0A0A;-webkit-text-stroke:1.0px #0A0A0A;letter-spacing:0.05em;transform:scale(0.7714,1.0000)">(3<span class="x">b</span>502,</div>
<div class="t" style="left:513.5px;top:1458.5px;font-size:59.0px;line-height:59.0px;font-weight:400;color:#0A0A0A;-webkit-text-stroke:1.0px #0A0A0A;letter-spacing:0.05em;transform:scale(0.7500,1.0000)">3<span class="x">b</span>503,</div>
<div class="t" style="left:675.5px;top:1458.5px;font-size:59.0px;line-height:59.0px;font-weight:400;color:#0A0A0A;-webkit-text-stroke:1.0px #0A0A0A;letter-spacing:0.05em;transform:scale(0.7565,1.0000)">3<span class="x">b</span>504)</div>
<div class="t" style="left:836.5px;top:1458.5px;font-size:59.0px;line-height:59.0px;font-weight:400;color:#0A0A0A;-webkit-text-stroke:1.0px #0A0A0A;letter-spacing:0.05em">:</div>
<div class="t" style="left:865.6px;top:1458.5px;font-size:59.0px;line-height:59.0px;font-weight:400;color:#0A0A0A;-webkit-text-stroke:1.0px #0A0A0A;letter-spacing:0.05em;transform:scale(0.7108,1.0000)">2,2</div>
<div class="t" style="left:943.7px;top:1458.5px;font-size:59.0px;line-height:59.0px;font-weight:400;color:#0A0A0A;-webkit-text-stroke:1.0px #0A0A0A;letter-spacing:0.05em;transform:scale(0.7526,1.0000)"><span class="x">mg</span>,</div>
<div class="t" style="left:1036.8px;top:1458.5px;font-size:59.0px;line-height:59.0px;font-weight:400;color:#0A0A0A;-webkit-text-stroke:1.0px #0A0A0A;letter-spacing:0.05em;transform:scale(0.7500,1.0000)">Z<span class="x">inc</span></div>
<div class="t" style="left:1140.8px;top:1458.5px;font-size:59.0px;line-height:59.0px;font-weight:400;color:#0A0A0A;-webkit-text-stroke:1.0px #0A0A0A;letter-spacing:0.05em;transform:scale(0.7457,1.0000)">(3<span class="x">b</span>603,</div>
<div class="t" style="left:1319.8px;top:1458.5px;font-size:59.0px;line-height:59.0px;font-weight:400;color:#0A0A0A;-webkit-text-stroke:1.0px #0A0A0A;letter-spacing:0.05em;transform:scale(0.7431,1.0000)">3<span class="x">b</span>605,</div>
<div class="t" style="left:1481.3px;top:1458.5px;font-size:59.0px;line-height:59.0px;font-weight:400;color:#0A0A0A;-webkit-text-stroke:1.0px #0A0A0A;letter-spacing:0.05em;transform:scale(0.7565,1.0000)">3<span class="x">b</span>606)</div>
<div class="t" style="left:1640.4px;top:1458.5px;font-size:59.0px;line-height:59.0px;font-weight:400;color:#0A0A0A;-webkit-text-stroke:1.0px #0A0A0A;letter-spacing:0.05em">:</div>
<div class="t" style="left:1669.1px;top:1458.5px;font-size:59.0px;line-height:59.0px;font-weight:400;color:#0A0A0A;-webkit-text-stroke:1.0px #0A0A0A;letter-spacing:0.05em;transform:scale(0.7766,1.0000)">22</div>
<div class="t" style="left:1733.4px;top:1458.5px;font-size:59.0px;line-height:59.0px;font-weight:400;color:#0A0A0A;-webkit-text-stroke:1.0px #0A0A0A;letter-spacing:0.05em;transform:scale(0.8570,1.0000)"><span class="x">mg</span></div>
<div class="t" style="left:1819.2px;top:1458.5px;font-size:59.0px;line-height:59.0px;font-weight:400;color:#0A0A0A;-webkit-text-stroke:1.0px #0A0A0A;letter-spacing:0.05em">-</div>
<div class="t" style="left:1851.8px;top:1458.5px;font-size:59.0px;line-height:59.0px;font-weight:400;color:#0A0A0A;-webkit-text-stroke:1.0px #0A0A0A;letter-spacing:0.05em;transform:scale(0.7737,1.0000)">A<span class="x">dditifs</span></div>
<div class="t" style="left:74.0px;top:1522.5px;font-size:59.0px;line-height:59.0px;font-weight:400;color:#0A0A0A;-webkit-text-stroke:1.0px #0A0A0A;letter-spacing:0.05em;transform:scale(0.7581,1.0000)"><span class="x">technologiques</span></div>
<div class="t" style="left:415.5px;top:1522.5px;font-size:59.0px;line-height:59.0px;font-weight:400;color:#0A0A0A;-webkit-text-stroke:1.0px #0A0A0A;letter-spacing:0.05em">:</div>
<div class="t" style="left:443.5px;top:1522.5px;font-size:59.0px;line-height:59.0px;font-weight:400;color:#0A0A0A;-webkit-text-stroke:1.0px #0A0A0A;letter-spacing:0.05em;transform:scale(0.7762,1.0000)">B<span class="x">isulfate</span></div>
<div class="t" style="left:651.0px;top:1522.5px;font-size:59.0px;line-height:59.0px;font-weight:400;color:#0A0A0A;-webkit-text-stroke:1.0px #0A0A0A;letter-spacing:0.05em;transform:scale(0.7766,1.0000)"><span class="x">de</span></div>
<div class="t" style="left:717.0px;top:1522.5px;font-size:59.0px;line-height:59.0px;font-weight:400;color:#0A0A0A;-webkit-text-stroke:1.0px #0A0A0A;letter-spacing:0.05em;transform:scale(0.7806,1.0000)"><span class="x">sodium</span></div>
<div class="t" style="left:887.1px;top:1522.5px;font-size:59.0px;line-height:59.0px;font-weight:400;color:#0A0A0A;-webkit-text-stroke:1.0px #0A0A0A;letter-spacing:0.05em">:</div>
<div class="t" style="left:915.1px;top:1522.5px;font-size:59.0px;line-height:59.0px;font-weight:400;color:#0A0A0A;-webkit-text-stroke:1.0px #0A0A0A;letter-spacing:0.05em;transform:scale(0.7548,1.0000)">0,5</div>
<div class="t" style="left:994.3px;top:1522.5px;font-size:59.0px;line-height:59.0px;font-weight:400;color:#0A0A0A;-webkit-text-stroke:1.0px #0A0A0A;letter-spacing:0.05em;transform:scale(0.7600,1.0000)"><span class="x">g</span>.</div>
<div class="t" style="left:1045.7px;top:1522.5px;font-size:59.0px;line-height:59.0px;font-weight:400;color:#0A0A0A;-webkit-text-stroke:1.0px #0A0A0A;letter-spacing:0.08em;transform:scale(0.6696,1.0000)">CONSTITUANTS</div>
<div class="t" style="left:1402.0px;top:1522.5px;font-size:59.0px;line-height:59.0px;font-weight:400;color:#0A0A0A;-webkit-text-stroke:1.0px #0A0A0A;letter-spacing:0.08em;transform:scale(0.6740,1.0000)">ANALYTIQUES</div>
<div class="t" style="left:1718.8px;top:1522.5px;font-size:59.0px;line-height:59.0px;font-weight:400;color:#0A0A0A;-webkit-text-stroke:1.0px #0A0A0A;letter-spacing:0.05em">:</div>
<div class="t" style="left:1747.8px;top:1522.5px;font-size:59.0px;line-height:59.0px;font-weight:400;color:#0A0A0A;-webkit-text-stroke:1.0px #0A0A0A;letter-spacing:0.05em;transform:scale(0.7628,1.0000)">P<span class="x">rotéine</span></div>
<div class="t" style="left:1941.9px;top:1522.5px;font-size:59.0px;line-height:59.0px;font-weight:400;color:#0A0A0A;-webkit-text-stroke:1.0px #0A0A0A;letter-spacing:0.05em">:</div>
<div class="t" style="left:1970.1px;top:1522.5px;font-size:59.0px;line-height:59.0px;font-weight:400;color:#0A0A0A;-webkit-text-stroke:1.0px #0A0A0A;letter-spacing:0.05em;transform:scale(0.7364,1.0000)">10,0</div>
<div class="t" style="left:2077.1px;top:1522.5px;font-size:59.0px;line-height:59.0px;font-weight:400;color:#0A0A0A;-webkit-text-stroke:1.0px #0A0A0A;letter-spacing:0.05em;transform:scale(0.6755,1.0000)">%</div>
<div class="t" style="left:71.8px;top:1586.5px;font-size:59.0px;line-height:59.0px;font-weight:400;color:#0A0A0A;-webkit-text-stroke:1.0px #0A0A0A;letter-spacing:0.05em">-</div>
<div class="t" style="left:103.5px;top:1586.5px;font-size:59.0px;line-height:59.0px;font-weight:400;color:#0A0A0A;-webkit-text-stroke:1.0px #0A0A0A;letter-spacing:0.05em;transform:scale(0.7405,1.0000)">C<span class="x">ellulose</span></div>
<div class="t" style="left:312.3px;top:1586.5px;font-size:59.0px;line-height:59.0px;font-weight:400;color:#0A0A0A;-webkit-text-stroke:1.0px #0A0A0A;letter-spacing:0.05em;transform:scale(0.7929,1.0000)"><span class="x">brute</span></div>
<div class="t" style="left:437.5px;top:1586.5px;font-size:59.0px;line-height:59.0px;font-weight:400;color:#0A0A0A;-webkit-text-stroke:1.0px #0A0A0A;letter-spacing:0.05em">:</div>
<div class="t" style="left:463.5px;top:1586.5px;font-size:59.0px;line-height:59.0px;font-weight:400;color:#0A0A0A;-webkit-text-stroke:1.0px #0A0A0A;letter-spacing:0.05em;transform:scale(0.7262,1.0000)">0,8</div>
<div class="t" style="left:538.5px;top:1586.5px;font-size:59.0px;line-height:59.0px;font-weight:400;color:#0A0A0A;-webkit-text-stroke:1.0px #0A0A0A;letter-spacing:0.05em;transform:scale(0.7551,1.0000)">%</div>
<div class="t" style="left:590.3px;top:1586.5px;font-size:59.0px;line-height:59.0px;font-weight:400;color:#0A0A0A;-webkit-text-stroke:1.0px #0A0A0A;letter-spacing:0.05em">-</div>
<div class="t" style="left:623.3px;top:1586.5px;font-size:59.0px;line-height:59.0px;font-weight:400;color:#0A0A0A;-webkit-text-stroke:1.0px #0A0A0A;letter-spacing:0.05em;transform:scale(0.7250,1.0000)">T<span class="x">eneur</span></div>
<div class="t" style="left:783.1px;top:1586.5px;font-size:59.0px;line-height:59.0px;font-weight:400;color:#0A0A0A;-webkit-text-stroke:1.0px #0A0A0A;letter-spacing:0.05em;transform:scale(0.7635,1.0000)"><span class="x">en</span></div>
<div class="t" style="left:845.7px;top:1586.5px;font-size:59.0px;line-height:59.0px;font-weight:400;color:#0A0A0A;-webkit-text-stroke:1.0px #0A0A0A;letter-spacing:0.05em;transform:scale(0.7769,1.0000)"><span class="x">matières</span></div>
<div class="t" style="left:1050.2px;top:1586.5px;font-size:59.0px;line-height:59.0px;font-weight:400;color:#0A0A0A;-webkit-text-stroke:1.0px #0A0A0A;letter-spacing:0.05em;transform:scale(0.7561,1.0000)"><span class="x">grasses</span></div>
<div class="t" style="left:1229.5px;top:1586.5px;font-size:59.0px;line-height:59.0px;font-weight:400;color:#0A0A0A;-webkit-text-stroke:1.0px #0A0A0A;letter-spacing:0.05em">:</div>
<div class="t" style="left:1257.6px;top:1586.5px;font-size:59.0px;line-height:59.0px;font-weight:400;color:#0A0A0A;-webkit-text-stroke:1.0px #0A0A0A;letter-spacing:0.05em;transform:scale(0.7024,1.0000)">3,5</div>
<div class="t" style="left:1335.7px;top:1586.5px;font-size:59.0px;line-height:59.0px;font-weight:400;color:#0A0A0A;-webkit-text-stroke:1.0px #0A0A0A;letter-spacing:0.05em;transform:scale(0.6612,1.0000)">%</div>
<div class="t" style="left:1384.2px;top:1586.5px;font-size:59.0px;line-height:59.0px;font-weight:400;color:#0A0A0A;-webkit-text-stroke:1.0px #0A0A0A;letter-spacing:0.05em">-</div>
<div class="t" style="left:1416.1px;top:1586.5px;font-size:59.0px;line-height:59.0px;font-weight:400;color:#0A0A0A;-webkit-text-stroke:1.0px #0A0A0A;letter-spacing:0.05em;transform:scale(0.7274,1.0000)">C<span class="x">endres</span></div>
<div class="t" style="left:1604.7px;top:1586.5px;font-size:59.0px;line-height:59.0px;font-weight:400;color:#0A0A0A;-webkit-text-stroke:1.0px #0A0A0A;letter-spacing:0.05em;transform:scale(0.7759,1.0000)"><span class="x">brutes</span></div>
<div class="t" style="left:1751.5px;top:1586.5px;font-size:59.0px;line-height:59.0px;font-weight:400;color:#0A0A0A;-webkit-text-stroke:1.0px #0A0A0A;letter-spacing:0.05em">:</div>
<div class="t" style="left:1780.8px;top:1586.5px;font-size:59.0px;line-height:59.0px;font-weight:400;color:#0A0A0A;-webkit-text-stroke:1.0px #0A0A0A;letter-spacing:0.05em;transform:scale(0.6145,1.0000)">2,1</div>
<div class="t" style="left:1858.3px;top:1586.5px;font-size:59.0px;line-height:59.0px;font-weight:400;color:#0A0A0A;-webkit-text-stroke:1.0px #0A0A0A;letter-spacing:0.05em;transform:scale(0.6612,1.0000)">%</div>
<div class="t" style="left:1906.9px;top:1586.5px;font-size:59.0px;line-height:59.0px;font-weight:400;color:#0A0A0A;-webkit-text-stroke:1.0px #0A0A0A;letter-spacing:0.05em">-</div>
<div class="t" style="left:1937.2px;top:1586.5px;font-size:59.0px;line-height:59.0px;font-weight:400;color:#0A0A0A;-webkit-text-stroke:1.0px #0A0A0A;letter-spacing:0.05em;transform:scale(0.7672,1.0000)">H<span class="x">umidité</span></div>
<div class="t" style="left:2142.2px;top:1586.5px;font-size:59.0px;line-height:59.0px;font-weight:400;color:#0A0A0A;-webkit-text-stroke:1.0px #0A0A0A;letter-spacing:0.05em">:</div>
<div class="t" style="left:2168.6px;top:1586.5px;font-size:59.0px;line-height:59.0px;font-weight:400;color:#0A0A0A;-webkit-text-stroke:1.0px #0A0A0A;letter-spacing:0.05em;transform:scale(0.7250,1.0000)">80,5</div>
<div class="t" style="left:2275.7px;top:1586.5px;font-size:59.0px;line-height:59.0px;font-weight:400;color:#0A0A0A;-webkit-text-stroke:1.0px #0A0A0A;letter-spacing:0.05em;transform:scale(0.6469,1.0000)">%</div>
<div class="t" style="left:71.8px;top:1650.5px;font-size:59.0px;line-height:59.0px;font-weight:400;color:#0A0A0A;-webkit-text-stroke:1.0px #0A0A0A;letter-spacing:0.05em">-</div>
<div class="t" style="left:103.5px;top:1650.5px;font-size:59.0px;line-height:59.0px;font-weight:400;color:#0A0A0A;-webkit-text-stroke:1.0px #0A0A0A;letter-spacing:0.05em;transform:scale(0.7611,1.0000)">C<span class="x">alcium</span></div>
<div class="t" style="left:289.8px;top:1650.5px;font-size:59.0px;line-height:59.0px;font-weight:400;color:#0A0A0A;-webkit-text-stroke:1.0px #0A0A0A;letter-spacing:0.05em">:</div>
<div class="t" style="left:317.5px;top:1650.5px;font-size:59.0px;line-height:59.0px;font-weight:400;color:#0A0A0A;-webkit-text-stroke:1.0px #0A0A0A;letter-spacing:0.05em;transform:scale(0.7381,1.0000)">0,3</div>
<div class="t" style="left:393.5px;top:1650.5px;font-size:59.0px;line-height:59.0px;font-weight:400;color:#0A0A0A;-webkit-text-stroke:1.0px #0A0A0A;letter-spacing:0.05em;transform:scale(0.7694,1.0000)">%</div>
<div class="t" style="left:447.4px;top:1650.5px;font-size:59.0px;line-height:59.0px;font-weight:400;color:#0A0A0A;-webkit-text-stroke:1.0px #0A0A0A;letter-spacing:0.05em">-</div>
<div class="t" style="left:479.3px;top:1650.5px;font-size:59.0px;line-height:59.0px;font-weight:400;color:#0A0A0A;-webkit-text-stroke:1.0px #0A0A0A;letter-spacing:0.05em;transform:scale(0.7667,1.0000)">P<span class="x">hosphore</span></div>
<div class="t" style="left:725.5px;top:1650.5px;font-size:59.0px;line-height:59.0px;font-weight:400;color:#0A0A0A;-webkit-text-stroke:1.0px #0A0A0A;letter-spacing:0.05em">:</div>
<div class="t" style="left:755.1px;top:1650.5px;font-size:59.0px;line-height:59.0px;font-weight:400;color:#0A0A0A;-webkit-text-stroke:1.0px #0A0A0A;letter-spacing:0.05em;transform:scale(0.7367,1.0000)">0,24</div>
<div class="t" style="left:862.5px;top:1650.5px;font-size:59.0px;line-height:59.0px;font-weight:400;color:#0A0A0A;-webkit-text-stroke:1.0px #0A0A0A;letter-spacing:0.05em;transform:scale(0.6653,1.0000)">%</div>
<div class="t" style="left:912.8px;top:1650.5px;font-size:59.0px;line-height:59.0px;font-weight:400;color:#0A0A0A;-webkit-text-stroke:1.0px #0A0A0A;letter-spacing:0.05em">-</div>
<div class="t" style="left:944.4px;top:1650.5px;font-size:59.0px;line-height:59.0px;font-weight:400;color:#0A0A0A;-webkit-text-stroke:1.0px #0A0A0A;letter-spacing:0.05em;transform:scale(0.7762,1.0000)">S<span class="x">odium</span></div>
<div class="t" style="left:1120.1px;top:1650.5px;font-size:59.0px;line-height:59.0px;font-weight:400;color:#0A0A0A;-webkit-text-stroke:1.0px #0A0A0A;letter-spacing:0.05em">:</div>
<div class="t" style="left:1148.0px;top:1650.5px;font-size:59.0px;line-height:59.0px;font-weight:400;color:#0A0A0A;-webkit-text-stroke:1.0px #0A0A0A;letter-spacing:0.05em;transform:scale(0.7521,1.0000)">0,29</div>
<div class="t" style="left:1257.7px;top:1650.5px;font-size:59.0px;line-height:59.0px;font-weight:400;color:#0A0A0A;-webkit-text-stroke:1.0px #0A0A0A;letter-spacing:0.05em;transform:scale(0.6694,1.0000)">%</div>
<div class="t" style="left:1306.7px;top:1650.5px;font-size:59.0px;line-height:59.0px;font-weight:400;color:#0A0A0A;-webkit-text-stroke:1.0px #0A0A0A;letter-spacing:0.05em">-</div>
<div class="t" style="left:1338.4px;top:1650.5px;font-size:59.0px;line-height:59.0px;font-weight:400;color:#0A0A0A;-webkit-text-stroke:1.0px #0A0A0A;letter-spacing:0.05em;transform:scale(0.7741,1.0000)">M<span class="x">agnésium</span></div>
<div class="t" style="left:1602.4px;top:1650.5px;font-size:59.0px;line-height:59.0px;font-weight:400;color:#0A0A0A;-webkit-text-stroke:1.0px #0A0A0A;letter-spacing:0.05em">:</div>
<div class="t" style="left:1630.6px;top:1650.5px;font-size:59.0px;line-height:59.0px;font-weight:400;color:#0A0A0A;-webkit-text-stroke:1.0px #0A0A0A;letter-spacing:0.05em;transform:scale(0.7034,1.0000)">0,01</div>
<div class="t" style="left:1739.3px;top:1650.5px;font-size:59.0px;line-height:59.0px;font-weight:400;color:#0A0A0A;-webkit-text-stroke:1.0px #0A0A0A;letter-spacing:0.05em;transform:scale(0.6612,1.0000)">%</div>
<div class="t" style="left:1787.3px;top:1650.5px;font-size:59.0px;line-height:59.0px;font-weight:400;color:#0A0A0A;-webkit-text-stroke:1.0px #0A0A0A;letter-spacing:0.05em">-</div>
<div class="t" style="left:1819.2px;top:1650.5px;font-size:59.0px;line-height:59.0px;font-weight:400;color:#0A0A0A;-webkit-text-stroke:1.0px #0A0A0A;letter-spacing:0.05em;transform:scale(0.7764,1.0000)">P<span class="x">otassium</span></div>
<div class="t" style="left:2061.4px;top:1650.5px;font-size:59.0px;line-height:59.0px;font-weight:400;color:#0A0A0A;-webkit-text-stroke:1.0px #0A0A0A;letter-spacing:0.05em">:</div>
<div class="t" style="left:2091.0px;top:1650.5px;font-size:59.0px;line-height:59.0px;font-weight:400;color:#0A0A0A;-webkit-text-stroke:1.0px #0A0A0A;letter-spacing:0.05em;transform:scale(0.7375,1.0000)">0,18</div>
<div class="t" style="left:2198.3px;top:1650.5px;font-size:59.0px;line-height:59.0px;font-weight:400;color:#0A0A0A;-webkit-text-stroke:1.0px #0A0A0A;letter-spacing:0.05em;transform:scale(0.6612,1.0000)">%</div>
<div class="t" style="left:71.8px;top:1714.5px;font-size:59.0px;line-height:59.0px;font-weight:400;color:#0A0A0A;-webkit-text-stroke:1.0px #0A0A0A;letter-spacing:0.05em">-</div>
<div class="t" style="left:103.5px;top:1714.5px;font-size:59.0px;line-height:59.0px;font-weight:400;color:#0A0A0A;-webkit-text-stroke:1.0px #0A0A0A;letter-spacing:0.05em;transform:scale(0.7737,1.0000)">C<span class="x">hlorure</span></div>
<div class="t" style="left:305.4px;top:1714.5px;font-size:59.0px;line-height:59.0px;font-weight:400;color:#0A0A0A;-webkit-text-stroke:1.0px #0A0A0A;letter-spacing:0.05em">:</div>
<div class="t" style="left:333.3px;top:1714.5px;font-size:59.0px;line-height:59.0px;font-weight:400;color:#0A0A0A;-webkit-text-stroke:1.0px #0A0A0A;letter-spacing:0.05em;transform:scale(0.7517,1.0000)">0,44</div>
<div class="t" style="left:438.9px;top:1714.5px;font-size:59.0px;line-height:59.0px;font-weight:400;color:#0A0A0A;-webkit-text-stroke:1.0px #0A0A0A;letter-spacing:0.05em;transform:scale(0.7265,1.0000)">%</div>
<div class="t" style="left:490.9px;top:1714.5px;font-size:59.0px;line-height:59.0px;font-weight:400;color:#0A0A0A;-webkit-text-stroke:1.0px #0A0A0A;letter-spacing:0.05em">-</div>
<div class="t" style="left:522.8px;top:1714.5px;font-size:59.0px;line-height:59.0px;font-weight:400;color:#0A0A0A;-webkit-text-stroke:1.0px #0A0A0A;letter-spacing:0.05em;transform:scale(0.7734,1.0000)">S<span class="x">oufre</span></div>
<div class="t" style="left:677.5px;top:1714.5px;font-size:59.0px;line-height:59.0px;font-weight:400;color:#0A0A0A;-webkit-text-stroke:1.0px #0A0A0A;letter-spacing:0.05em">:</div>
<div class="t" style="left:707.0px;top:1714.5px;font-size:59.0px;line-height:59.0px;font-weight:400;color:#0A0A0A;-webkit-text-stroke:1.0px #0A0A0A;letter-spacing:0.05em;transform:scale(0.7571,1.0000)">0,19</div>
<div class="t" style="left:814.3px;top:1714.5px;font-size:59.0px;line-height:59.0px;font-weight:400;color:#0A0A0A;-webkit-text-stroke:1.0px #0A0A0A;letter-spacing:0.05em;transform:scale(0.6954,1.0000)">%.</div>
</body></html>
